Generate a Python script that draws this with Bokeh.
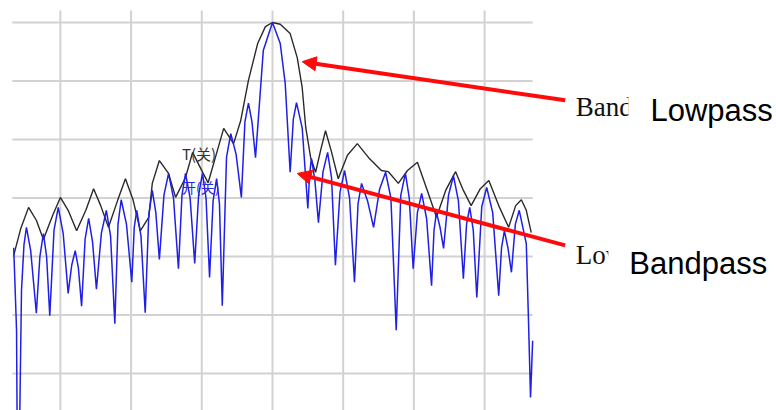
from bokeh.plotting import figure
from bokeh.models import Range1d, Label, Arrow, NormalHead
from bokeh.embed import file_html
from bokeh.resources import INLINE

# Lowpass response (black envelope): frequency offset, level in dB
lowpass_x = [-36.6, -35.6, -34.5, -33.4, -32.4, -31.1, -30.0, -28.9, -27.7, -26.4,
             -25.3, -24.3, -23.2, -21.9, -20.8, -19.7, -18.7, -17.5, -17.0, -16.0,
             -14.7, -13.7, -12.3, -11.3, -9.8, -9.1, -7.8, -6.9, -5.5, -4.5,
             -3.4, -2.1, -1.0, 0.0, 1.1, 2.5, 3.5, 4.2, 4.7, 5.4,
             6.1, 6.8, 7.5, 8.3, 9.3, 10.6, 12.0, 13.6, 15.4, 16.4,
             17.8, 19.1, 20.5, 21.9, 23.2, 24.5, 25.9, 27.0, 28.1, 29.4,
             30.6, 32.0, 33.4, 34.4, 35.2, 35.9, 36.6]
lowpass_db = [-39.8, -35.2, -31.6, -33.8, -37.1, -33.0, -29.9, -32.1, -35.6, -32.1,
              -28.4, -31.3, -35.0, -30.4, -26.7, -30.4, -35.6, -33.3, -27.5, -23.6,
              -25.8, -29.9, -26.5, -22.2, -25.8, -27.4, -21.9, -18.1, -20.7, -16.8,
              -9.9, -3.6, -0.7, 0.0, -0.3, -1.9, -6.0, -11.1, -17.9, -23.1,
              -25.6, -21.9, -18.5, -21.9, -26.7, -22.7, -20.7, -23.1, -25.3, -25.5,
              -27.5, -25.3, -23.9, -28.7, -33.3, -28.7, -25.5, -28.7, -31.3, -28.4,
              -27.0, -31.3, -35.0, -31.3, -30.3, -32.1, -35.9]

# Bandpass response (blue): frequency offset, level in dB
bandpass_x = [-36.6, -36.2, -36.1, -35.8, -35.5, -35.15, -34.8, -34.2, -33.4, -32.9,
              -32.4, -31.95, -31.5, -30.9, -30.3, -29.6, -28.9, -28.4, -27.9, -27.45,
              -27.0, -26.5, -26.0, -25.45, -24.9, -24.2, -23.5, -22.9, -22.3, -21.85,
              -21.4, -20.65, -19.9, -19.55, -19.2, -18.6, -18.0, -17.5, -17.0, -16.5,
              -16.0, -15.35, -14.7, -14.0, -13.3, -12.8, -12.3, -11.65, -11.0, -10.45,
              -9.9, -9.4, -8.9, -8.4, -7.9, -7.5, -7.1, -6.5, -5.9, -5.15,
              -4.4, -3.9, -3.4, -2.9, -2.4, -1.3, 0.0, 1.1, 1.8, 2.5,
              2.95, 3.4, 4.2, 5.0, 5.25, 5.5, 6.0, 6.5, 7.15, 7.8,
              8.35, 8.9, 9.55, 10.2, 10.9, 11.6, 12.1, 12.6, 13.45, 14.3,
              15.15, 16.0, 16.75, 17.5, 18.15, 18.8, 19.35, 19.9, 20.5, 21.1,
              21.8, 22.5, 22.85, 23.2, 23.7, 24.2, 24.9, 25.6, 26.3, 27.0,
              27.45, 27.9, 28.4, 28.9, 29.6, 30.3, 31.15, 32.0, 32.4, 32.8,
              33.3, 33.8, 34.35, 34.9, 35.9, 36.2, 36.5, 36.8]
bandpass_db = [-38.5, -52.6, -72.0, -72.0, -45.8, -38.0, -35.0, -39.0, -49.7, -40.0,
               -36.1, -40.0, -50.1, -35.5, -31.6, -36.1, -46.3, -41.5, -39.0, -42.0,
               -48.5, -37.0, -33.5, -37.5, -45.6, -36.0, -32.1, -36.5, -51.5, -34.5,
               -30.3, -34.5, -44.4, -35.0, -32.1, -36.5, -49.6, -33.0, -28.7, -32.5,
               -40.5, -29.5, -25.8, -30.0, -42.1, -29.5, -25.8, -30.0, -41.2, -29.5,
               -25.8, -30.0, -43.6, -30.5, -26.7, -31.0, -48.4, -23.0, -19.0, -22.5,
               -29.9, -17.0, -13.8, -17.0, -23.1, -4.8, 0.0, -3.6, -10.4, -25.6,
               -16.5, -13.7, -18.0, -31.8, -26.0, -23.2, -27.0, -34.2, -25.5, -22.2,
               -26.5, -41.5, -29.0, -25.3, -30.0, -44.4, -31.0, -27.5, -30.5, -35.0,
               -28.5, -25.6, -30.0, -52.6, -29.5, -25.8, -30.0, -42.1, -32.5, -29.2,
               -33.5, -45.0, -35.5, -32.5, -35.0, -38.6, -29.5, -26.2, -30.5, -43.8,
               -34.5, -31.6, -35.5, -47.0, -31.5, -28.2, -32.5, -46.7, -38.5, -35.6,
               -38.5, -42.7, -34.5, -32.1, -37.8, -50.4, -64.1, -54.4]

# grid positions (frequency offset / dB)
grid_x = [-30, -20, -10, 0, 10, 20, 30]
grid_db = [0, -10, -20, -30, -40, -50, -60]
X_MIN, X_MAX = -36.8, 36.8
DB_MIN, DB_MAX = -66.3, 2.05

p = figure(width=776, height=410,
           x_range=Range1d(-38.47, 71.29), y_range=Range1d(-66.32, 3.76),
           output_backend="svg", toolbar_location=None,
           x_axis_location=None, y_axis_location=None,
           min_border=0)
p.outline_line_color = None
p.background_fill_color = "white"
p.xgrid.visible = False
p.ygrid.visible = False

grid_color = "#d2d2d2"
p.segment(x0=grid_x, y0=[DB_MIN] * len(grid_x), x1=grid_x, y1=[DB_MAX] * len(grid_x),
          line_color=grid_color, line_width=2)
p.segment(x0=[X_MIN] * len(grid_db), y0=grid_db, x1=[X_MAX] * len(grid_db), y1=grid_db,
          line_color=grid_color, line_width=2)

p.line(lowpass_x, lowpass_db, line_color="#2a2a2a", line_width=1.4)
p.line(bandpass_x, bandpass_db, line_color="#1f1fe6", line_width=1.5)

p.add_layout(Label(x=-12.8, y=-22.4, text="T(关)", text_font="Noto Sans CJK SC",
                   text_font_size="15px", text_color="#333333",
                   text_baseline="alphabetic"))
p.add_layout(Label(x=-12.8, y=-28.2, text="开(关)", text_font="Noto Sans CJK SC",
                   text_font_size="14px", text_color="#2a2ae0",
                   text_baseline="alphabetic"))

for xs, ys, xe, ye in [(41.4, -13.3, 4.2, -6.7), (41.4, -38.1, 3.5, -25.8)]:
    p.add_layout(Arrow(x_start=xs, y_start=ys, x_end=xe, y_end=ye,
                       line_color="#ff0a0a", line_width=4,
                       end=NormalHead(size=14, fill_color="#ff0a0a",
                                      line_color="#ff0a0a", line_width=1)))

# original serif labels (partly hidden)
p.add_layout(Label(x=42.9, y=-14.4, text="Bandpass", text_font="Liberation Serif",
                   text_font_size="27px", text_color="#111111",
                   text_baseline="alphabetic"))
p.add_layout(Label(x=42.9, y=-39.8, text="Lowpass", text_font="Liberation Serif",
                   text_font_size="27px", text_color="#111111",
                   text_baseline="alphabetic"))
# overlay sans labels with white boxes
p.add_layout(Label(x=50.35, y=-15.0, text="Lowpass", text_font="Liberation Sans",
                   text_font_size="31px", text_color="black",
                   text_baseline="alphabetic", background_fill_color="white",
                   padding=dict(left=22, right=2, top=4, bottom=4)))
p.add_layout(Label(x=47.5, y=-41.2, text="Bandpass", text_font="Liberation Sans",
                   text_font_size="31px", text_color="black",
                   text_baseline="alphabetic", background_fill_color="white",
                   padding=dict(left=21, right=2, top=4, bottom=4)))

open("out.html", "w").write(file_html(p, INLINE))
